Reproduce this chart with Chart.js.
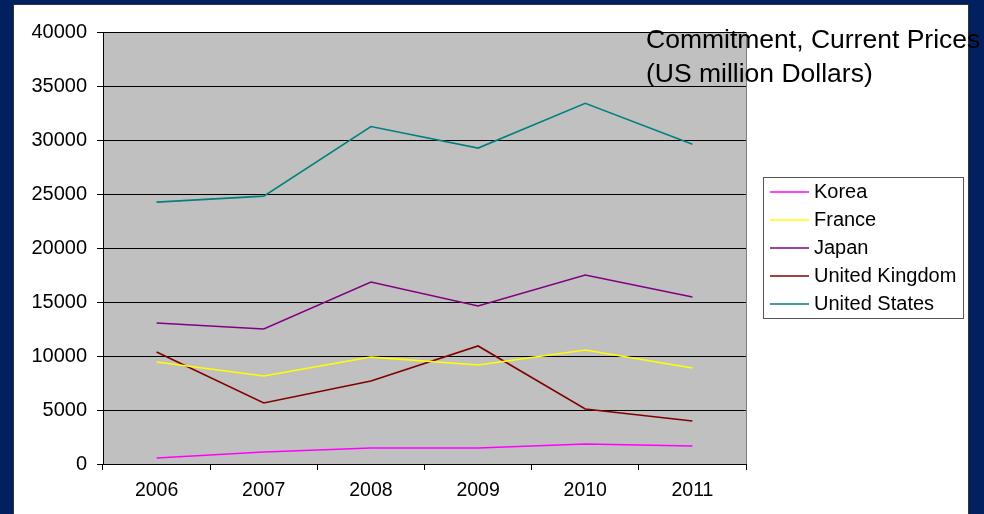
<!DOCTYPE html>
<html>
<head>
<meta charset="utf-8">
<script src="https://cdn.jsdelivr.net/npm/chart.js@4"></script>
<style>
  html, body { margin: 0; padding: 0; background: #002060; overflow: hidden; }
  #panel { position: absolute; left: 13px; top: 4px; width: 954px; height: 520px; background: #fff; border: 1px solid #333; }
  #wrap { position: absolute; left: 0; top: 0; width: 984px; height: 514px; }
</style>
</head>
<body>
<div id="panel"></div>
<div id="wrap"><canvas id="grafico"></canvas></div>
<script>
const anios = ['2006', '2007', '2008', '2009', '2010', '2011'];
const korea = [560, 1110, 1480, 1480, 1850, 1670];
const france = [9440, 8150, 9900, 9170, 10560, 8890];
const japan = [13050, 12500, 16850, 14630, 17500, 15460];
const uk = [10370, 5650, 7690, 10930, 5090, 3980];
const usa = [24250, 24800, 31250, 29250, 33400, 29600];
const titulo = ['Commitment, Current Prices', '(US million Dollars)'];

const fuente = '"Liberation Sans", Arial, sans-serif';

// fondo gris del area, titulo y leyenda
const decor = {
  id: 'decor',
  beforeDraw(chart) {
    const { ctx, chartArea: a } = chart;
    ctx.save();
    ctx.fillStyle = '#c0c0c0';
    ctx.fillRect(a.left, a.top, a.right - a.left, a.bottom - a.top);
    ctx.strokeStyle = '#808080';
    ctx.lineWidth = 1;
    ctx.beginPath();
    ctx.moveTo(a.right + 0.5, a.top);
    ctx.lineTo(a.right + 0.5, a.bottom);
    ctx.stroke();
    ctx.restore();
  },
  afterDraw(chart) {
    const ctx = chart.ctx;
    ctx.save();
    ctx.fillStyle = '#000';
    ctx.font = '26.5px ' + fuente;
    ctx.textBaseline = 'middle';
    ctx.textAlign = 'left';
    ctx.fillText(titulo[0], 646, 41);
    ctx.fillText(titulo[1], 646, 75);

    // leyenda
    ctx.fillStyle = '#fff';
    ctx.fillRect(763, 177, 200, 141);
    ctx.strokeStyle = '#555';
    ctx.lineWidth = 1;
    ctx.strokeRect(763.5, 177.5, 200, 141);
    ctx.font = '20px ' + fuente;
    chart.data.datasets.forEach((ds, i) => {
      const y = 192 + i * 28;
      ctx.strokeStyle = ds.borderColor;
      ctx.lineWidth = 1.5;
      ctx.beginPath();
      ctx.moveTo(770, y);
      ctx.lineTo(809, y);
      ctx.stroke();
      ctx.fillStyle = '#000';
      ctx.fillText(ds.label, 814, y);
    });
    ctx.restore();
  }
};

const serie = (label, data, color) => ({
  label, data,
  borderColor: color,
  backgroundColor: color,
  borderWidth: 1.6,
  pointRadius: 0,
  tension: 0,
  fill: false
});

new Chart(document.getElementById('grafico'), {
  type: 'line',
  data: {
    labels: anios,
    datasets: [
      serie('Korea', korea, '#ff00ff'),
      serie('France', france, '#ffff00'),
      serie('Japan', japan, '#800080'),
      serie('United Kingdom', uk, '#800000'),
      serie('United States', usa, '#008080')
    ]
  },
  options: {
    responsive: true,
    maintainAspectRatio: false,
    animation: false,
    layout: { padding: { top: 32, right: 238, left: 0, bottom: 0 } },
    plugins: {
      legend: { display: false },
      title: { display: false },
      tooltip: { enabled: false }
    },
    scales: {
      x: {
        offset: true,
        grid: { offset: true, drawOnChartArea: false, color: '#000', tickLength: 6 },
        border: { color: '#000' },
        ticks: { color: '#000', font: { family: fuente, size: 19.5 }, padding: 9, maxRotation: 0 },
        afterFit: s => { s.height = 50; }
      },
      y: {
        min: 0,
        max: 40000,
        grid: { color: '#000', tickLength: 6 },
        border: { color: '#000' },
        ticks: {
          stepSize: 5000,
          color: '#000',
          font: { family: fuente, size: 20 },
          padding: 10,
          callback: v => v
        },
        afterFit: s => { s.width = 103; }
      }
    }
  },
  plugins: [decor]
});
</script>
</body>
</html>
